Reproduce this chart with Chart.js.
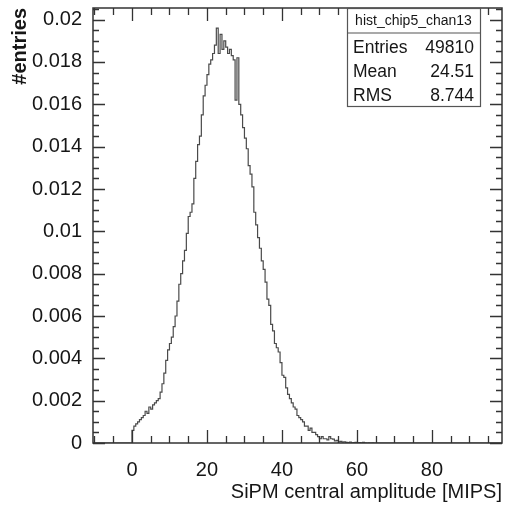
<!DOCTYPE html>
<html>
<head>
<meta charset="utf-8">
<script src="https://cdn.jsdelivr.net/npm/chart.js@4.4.0/dist/chart.umd.min.js"></script>
<style>
  html, body { margin: 0; padding: 0; background: #fff; }
  #wrap { width: 510px; height: 507px; }
</style>
</head>
<body>
<div id="wrap"><canvas id="graph" width="510" height="507"></canvas></div>
<script>
// histogram: bins start at 0, width 0.5 MIPS
const binStart = 0;
const binWidth = 0.5;
const counts = [
  0.0006, 0.0008, 0.0009, 0.0010, 0.0011, 0.0012, 0.0013, 0.0015, 0.0014, 0.0017,
  0.0016, 0.0018, 0.0019, 0.0020, 0.0021, 0.0024, 0.0028, 0.0033, 0.0039, 0.0044,
  0.0047, 0.0050, 0.0055, 0.0060, 0.0067, 0.0075, 0.0080, 0.0086, 0.0091, 0.0099,
  0.0107, 0.0109, 0.0113, 0.0125, 0.0133, 0.0141, 0.0145, 0.0155, 0.0164, 0.0169,
  0.0174, 0.0179, 0.0181, 0.0184, 0.0188, 0.0196, 0.0184, 0.0193, 0.0186, 0.0190,
  0.0187, 0.0184, 0.0186, 0.0183, 0.0181, 0.0162, 0.0182, 0.0160, 0.0155, 0.0149,
  0.0144, 0.0139, 0.0131, 0.0127, 0.0121, 0.0109, 0.0103, 0.0097, 0.0092, 0.0086,
  0.0082, 0.0076, 0.0068, 0.0065, 0.0056, 0.0053, 0.0047, 0.0045, 0.0043, 0.0038,
  0.0032, 0.0031, 0.0026, 0.0023, 0.0021, 0.0019, 0.0017, 0.0016, 0.0013, 0.0012,
  0.0011, 0.0010, 0.0008, 0.0008, 0.0006, 0.0007, 0.0005, 0.0005, 0.0004, 0.0003,
  0.0002, 0.0003, 0.0002, 0.0002, 0.00015, 0.0003, 0.0002, 0.00018, 0.0001, 0.00012,
  0.00005, 0.00008, 0.00004, 0.00005, 0.00003, 0.00002, 0.00004, 0.00001, 0.00002, 0.00003,
  0.00001, 0.00002, 0.00001, 0.00003, 0.00001, 0, 0.00001, 0, 0.00001
];

const xMin = -10.4, xMax = 98.7;
const yMin = 0, yMax = 0.02055;

const histName = 'hist_chip5_chan13';
const statLabels = ['Entries', 'Mean', 'RMS'];
const statValues = ['49810', '24.51', '8.744'];

const xTitle = 'SiPM central amplitude [MIPS]';
const yTitle = '#entries';

const FONT = "'Liberation Sans', Arial, Helvetica, sans-serif";
const INK = '#161616';

var points = [{x: xMin, y: 0}];
for (let i = 0; i < counts.length; i++) {
  points.push({x: binStart + i * binWidth, y: counts[i]});
}
points.push({x: binStart + counts.length * binWidth, y: 0});
points.push({x: xMax, y: 0});

// ROOT-like frame: box, inward ticks on all four sides, stats box
const rootFrame = {
  id: 'rootFrame',
  afterDraw(chart) {
    const c = chart.ctx;
    const a = chart.chartArea;
    const xs = chart.scales.x;
    const ys = chart.scales.y;
    c.save();
    c.strokeStyle = '#333';
    c.lineWidth = 1.3;

    // x ticks, every 5, major every 20
    for (let v = -10; v <= xMax; v += 5) {
      const px = Math.round(xs.getPixelForValue(v)) + 0.5;
      const len = (v % 20 === 0) ? 13 : 7;
      c.beginPath();
      c.moveTo(px, a.bottom); c.lineTo(px, a.bottom - len);
      c.moveTo(px, a.top); c.lineTo(px, a.top + len);
      c.stroke();
    }
    // y ticks, every 0.0005, major every 0.002
    for (let i = 0; i * 0.0005 <= yMax; i++) {
      const py = Math.round(ys.getPixelForValue(i * 0.0005)) + 0.5;
      const len = (i % 4 === 0) ? 12 : 6;
      c.beginPath();
      c.moveTo(a.left, py); c.lineTo(a.left + len, py);
      c.moveTo(a.right, py); c.lineTo(a.right - len, py);
      c.stroke();
    }
    c.lineWidth = 1.5;
    c.strokeRect(a.left, a.top, a.right - a.left, a.bottom - a.top);

    // stats box
    const bx = 347, by = a.top, bw = 133, bh = 98;
    c.fillStyle = '#fff';
    c.fillRect(bx, by, bw, bh);
    c.strokeStyle = '#555';
    c.lineWidth = 1.2;
    c.strokeRect(bx + 0.5, by + 0.5, bw, bh);
    c.beginPath();
    c.moveTo(bx, by + 25); c.lineTo(bx + bw, by + 25);
    c.stroke();

    c.fillStyle = INK;
    c.textBaseline = 'middle';
    c.font = '14px ' + FONT;
    c.textAlign = 'center';
    c.fillText(histName, bx + bw / 2, by + 13);
    c.font = '17.5px ' + FONT;
    for (let k = 0; k < statLabels.length; k++) {
      const ty = by + 40 + k * 24;
      c.textAlign = 'left';
      c.fillText(statLabels[k], bx + 6, ty);
      c.textAlign = 'right';
      c.fillText(statValues[k], bx + bw - 6, ty);
    }
    c.restore();
  }
};

const graph = new Chart(document.getElementById('graph'), {
  type: 'line',
  data: {
    datasets: [{
      data: points,
      stepped: 'before',
      borderColor: '#4a4a4a',
      borderWidth: 1.2,
      pointRadius: 0,
      fill: false
    }]
  },
  options: {
    responsive: false,
    animation: false,
    events: [],
    layout: { padding: { top: 8, right: 8, left: 0, bottom: 0 } },
    plugins: { legend: { display: false }, tooltip: { enabled: false } },
    scales: {
      x: {
        type: 'linear',
        min: xMin,
        max: xMax,
        grid: { display: false, drawTicks: false },
        border: { display: false },
        ticks: {
          stepSize: 20,
          includeBounds: false,
          padding: 15,
          color: INK,
          font: { family: FONT, size: 20 },
          maxRotation: 0
        },
        title: {
          display: true,
          text: xTitle,
          align: 'end',
          color: INK,
          font: { family: FONT, size: 20 },
          padding: { top: 0, bottom: 3 }
        },
        afterFit: (scale) => {
          scale.height = 64;
          scale.paddingLeft = 0;
          scale.paddingRight = 0;
        }
      },
      y: {
        min: yMin,
        max: yMax,
        grid: { display: false, drawTicks: false },
        border: { display: false },
        ticks: {
          stepSize: 0.002,
          includeBounds: false,
          padding: 11,
          color: INK,
          font: { family: FONT, size: 20 },
          callback: (v) => String(+v.toFixed(4))
        },
        title: {
          display: true,
          text: yTitle,
          align: 'end',
          color: INK,
          font: { family: FONT, size: 20, weight: 'bold' },
          padding: { top: 8, bottom: 0 }
        },
        afterFit: (scale) => {
          scale.width = 93;
          scale.paddingTop = 0;
          scale.paddingBottom = 0;
        }
      }
    }
  },
  plugins: [rootFrame]
});
</script>
</body>
</html>
